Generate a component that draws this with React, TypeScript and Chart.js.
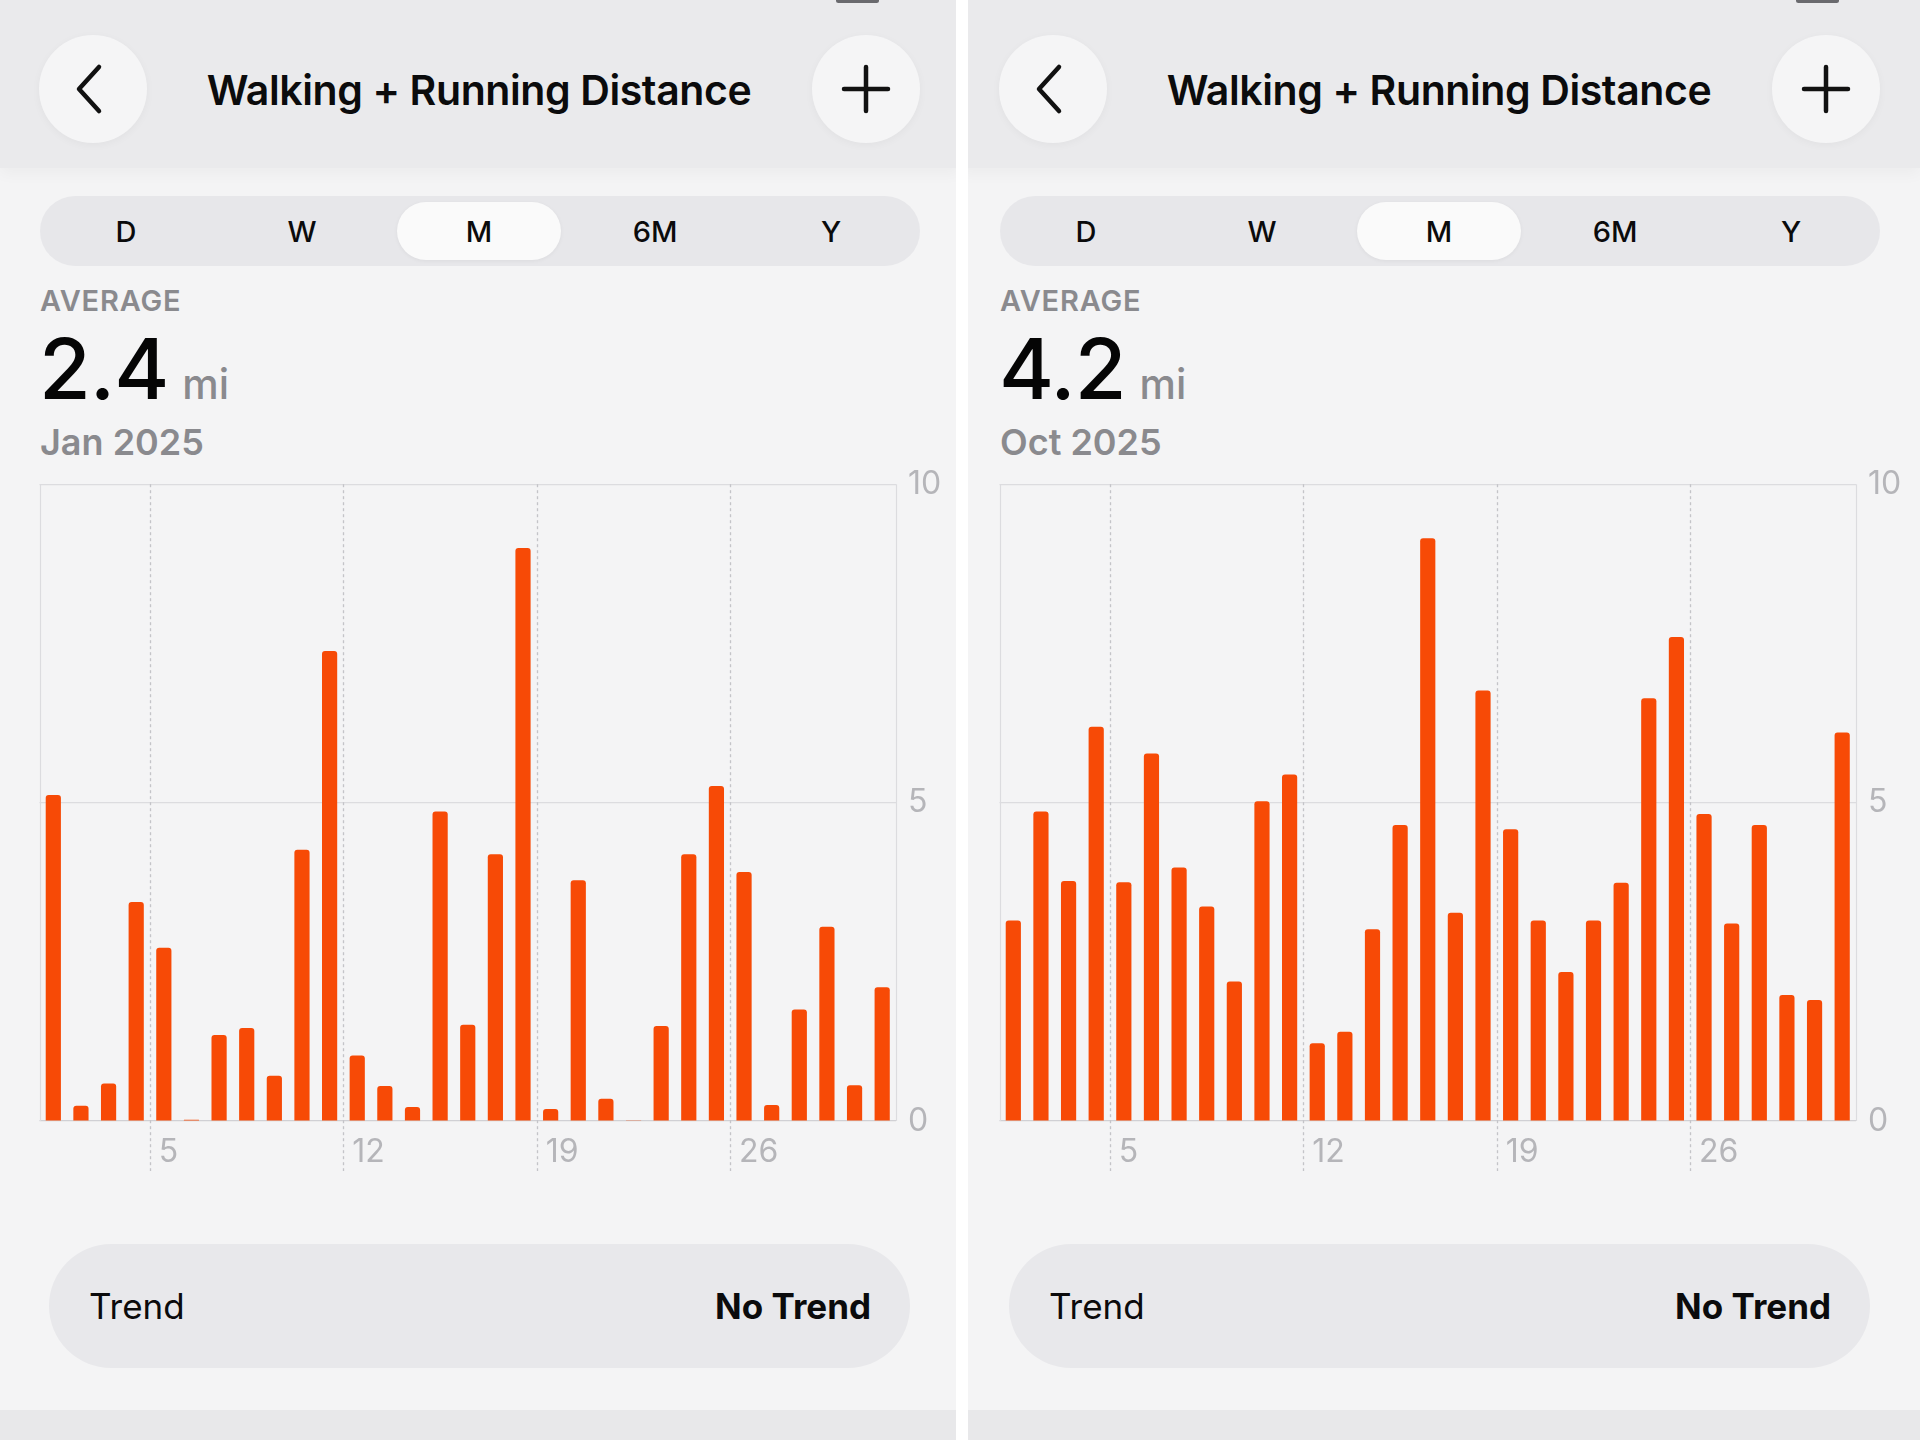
import React, { useEffect, useRef } from 'react';
import { Chart, registerables } from 'chart.js';

Chart.register(...registerables);

// ---------- data ----------
const DAYS = ['1','2','3','4','5','6','7','8','9','10','11','12','13','14','15','16','17','18','19','20','21','22','23','24','25','26','27','28','29','30','31'];
const MARKED_DAYS = ['5', '12', '19', '26'];
const Y_TICKS = [0, 5, 10];
const PERIODS = ['D', 'W', 'M', '6M', 'Y'];
const SELECTED_PERIOD = 'M';
const TITLE = 'Walking + Running Distance';

const JAN_2025 = [5.12, 0.24, 0.59, 3.44, 2.72, 0.02, 1.35, 1.46, 0.71, 4.26, 7.38, 1.03, 0.55, 0.22, 4.86, 1.51, 4.19, 9.0, 0.19, 3.78, 0.35, 0.01, 1.49, 4.19, 5.26, 3.91, 0.25, 1.75, 3.05, 0.56, 2.1];
const OCT_2025 = [3.15, 4.86, 3.77, 6.19, 3.75, 5.77, 3.98, 3.37, 2.19, 5.02, 5.44, 1.22, 1.4, 3.01, 4.65, 9.15, 3.27, 6.76, 4.58, 3.15, 2.34, 3.15, 3.74, 6.64, 7.6, 4.82, 3.1, 4.65, 1.98, 1.9, 6.1];

const PANELS = [
  { average: '2.4', unit: 'mi', month: 'Jan 2025', values: JAN_2025 },
  { average: '4.2', unit: 'mi', month: 'Oct 2025', values: OCT_2025 },
];

const FONT = 'Inter, "Noto Sans", Roboto, sans-serif';
const BAR_COLOR = '#F74A06';

const framePlugin = {
  id: 'healthFrame',
  beforeDatasetsDraw(chart: any) {
    const { ctx, chartArea, scales } = chart;
    const x = scales.x;
    const slot = x.getPixelForValue(1) - x.getPixelForValue(0);
    ctx.save();
    ctx.strokeStyle = '#dcdcdf';
    ctx.lineWidth = 1.2;
    ctx.beginPath();
    ctx.moveTo(Math.round(chartArea.left) + 0.5, chartArea.top);
    ctx.lineTo(Math.round(chartArea.left) + 0.5, chartArea.bottom);
    ctx.moveTo(Math.round(chartArea.right) + 0.5, chartArea.top);
    ctx.lineTo(Math.round(chartArea.right) + 0.5, chartArea.bottom);
    ctx.stroke();
    ctx.strokeStyle = '#c4c4c8';
    ctx.lineWidth = 1.3;
    ctx.setLineDash([3, 3]);
    MARKED_DAYS.forEach((d) => {
      const i = DAYS.indexOf(d);
      const px = Math.round(x.getPixelForValue(i) - slot / 2) + 0.5;
      ctx.beginPath();
      ctx.moveTo(px, chartArea.top);
      ctx.lineTo(px, chartArea.bottom + 50);
      ctx.stroke();
    });
    ctx.restore();
  },
};

function DistanceChart({ values }: { values: number[] }) {
  const ref = useRef<HTMLCanvasElement | null>(null);
  useEffect(() => {
    if (!ref.current) return;
    const chart = new Chart(ref.current, {
      type: 'bar',
      data: {
        labels: DAYS,
        datasets: [
          {
            data: values,
            backgroundColor: BAR_COLOR,
            borderWidth: 0,
            borderRadius: { topLeft: 3, topRight: 3, bottomLeft: 0, bottomRight: 0 },
            borderSkipped: 'bottom',
            barPercentage: 0.55,
            categoryPercentage: 1,
          },
        ],
      },
      options: {
        animation: false,
        responsive: false,
        devicePixelRatio: 1,
        layout: { padding: { left: 39.5, top: 24, right: 0, bottom: 0 } },
        plugins: { legend: { display: false }, tooltip: { enabled: false } },
        scales: {
          x: {
            type: 'category',
            offset: true,
            grid: { display: false },
            border: { display: false },
            ticks: {
              autoSkip: false,
              maxRotation: 0,
              minRotation: 0,
              align: 'start',
              labelOffset: -5,
              padding: 4,
              color: '#b5b5b9',
              font: { family: FONT, size: 32, weight: 400 },
              callback: (_v: any, idx: number) => (MARKED_DAYS.includes(DAYS[idx]) ? DAYS[idx] : ''),
            },
            afterFit: (s: any) => {
              s.height = 99;
            },
          },
          y: {
            position: 'right',
            min: Y_TICKS[0],
            max: Y_TICKS[Y_TICKS.length - 1],
            afterBuildTicks: (s: any) => {
              s.ticks = Y_TICKS.map((v) => ({ value: v }));
            },
            grid: {
              drawTicks: false,
              color: (c: any) => (c.tick && c.tick.value === 0 ? '#d0d0d4' : '#dcdcdf'),
              lineWidth: 1.2,
            },
            border: { display: false },
            ticks: {
              padding: 12,
              color: '#b5b5b9',
              font: { family: FONT, size: 32, weight: 400 },
              callback: (v: any) => String(v),
            },
            afterFit: (s: any) => {
              s.width = 64;
            },
          },
        },
      },
      plugins: [framePlugin],
    } as any);
    return () => chart.destroy();
  }, [values]);
  return (
    <canvas
      ref={ref}
      width={960}
      height={767}
      style={{ position: 'absolute', left: 0, top: 453, width: 960, height: 767 }}
    />
  );
}

const segCenters = [126, 302, 479, 655, 831];

function Panel({ left, average, unit, month, values }: any) {
  return (
    <div
      style={{
        position: 'absolute',
        left,
        top: 0,
        width: 960,
        height: 1440,
        overflow: 'hidden',
        background: '#F4F4F5',
        fontFamily: FONT,
      }}
    >
      {/* header */}
      <div
        style={{
          position: 'absolute',
          left: 0,
          top: 0,
          width: 960,
          height: 168,
          background: '#EAEAEC',
          boxShadow: '0 6px 14px rgba(0,0,0,0.035)',
        }}
      />
      <div style={{ position: 'absolute', left: 836, top: -2, width: 43, height: 5, borderRadius: 3, background: '#6a6a6e' }} />
      {/* back button */}
      <div
        style={{
          position: 'absolute',
          left: 39,
          top: 35,
          width: 108,
          height: 108,
          borderRadius: 54,
          background: '#F5F5F6',
          boxShadow: '0 2px 8px rgba(0,0,0,0.04)',
        }}
      >
        <svg width={108} height={108} viewBox="0 0 108 108">
          <polyline points="60,32 40,54 60,76" fill="none" stroke="#111" strokeWidth={4.5} strokeLinecap="round" strokeLinejoin="round" />
        </svg>
      </div>
      {/* plus button */}
      <div
        style={{
          position: 'absolute',
          left: 812,
          top: 35,
          width: 108,
          height: 108,
          borderRadius: 54,
          background: '#F5F5F6',
          boxShadow: '0 2px 8px rgba(0,0,0,0.04)',
        }}
      >
        <svg width={108} height={108} viewBox="0 0 108 108">
          <line x1={32} y1={54} x2={76} y2={54} stroke="#111" strokeWidth={4.5} strokeLinecap="round" />
          <line x1={54} y1={32} x2={54} y2={76} stroke="#111" strokeWidth={4.5} strokeLinecap="round" />
        </svg>
      </div>
      {/* title */}
      <div
        style={{
          position: 'absolute',
          left: 0,
          width: 958,
          top: 65,
          height: 50,
          display: 'flex',
          alignItems: 'center',
          justifyContent: 'center',
          fontSize: 41,
          fontWeight: 600,
          color: '#0b0b0c',
          letterSpacing: -0.4,
        }}
      >
        {TITLE}
      </div>
      {/* segmented control */}
      <div style={{ position: 'absolute', left: 40, top: 196, width: 880, height: 70, borderRadius: 35, background: '#E7E7EA' }} />
      <div style={{ position: 'absolute', left: 397, top: 202, width: 164, height: 58, borderRadius: 29, background: '#FAFAFA', boxShadow: '0 1px 4px rgba(0,0,0,0.05)' }} />
      {PERIODS.map((p, i) => (
        <div
          key={p}
          style={{
            position: 'absolute',
            left: segCenters[i] - 60,
            width: 120,
            top: 206,
            height: 50,
            display: 'flex',
            alignItems: 'center',
            justifyContent: 'center',
            fontSize: 29,
            fontWeight: p === SELECTED_PERIOD ? 500 : 500,
            color: '#0b0b0c',
          }}
        >
          {p}
        </div>
      ))}
      {/* average */}
      <div style={{ position: 'absolute', left: 40, top: 280, height: 40, display: 'flex', alignItems: 'center', fontSize: 29, fontWeight: 600, color: '#8A8A8E', letterSpacing: 0.8 }}>
        AVERAGE
      </div>
      <div style={{ position: 'absolute', left: 39, top: 327, display: 'flex', alignItems: 'baseline', lineHeight: 1 }}>
        <span style={{ fontSize: 84, fontWeight: 500, color: '#050505', letterSpacing: -1 }}>{average}</span>
        <span style={{ fontSize: 41, fontWeight: 500, color: '#8A8A8E', marginLeft: 14 }}>{unit}</span>
      </div>
      <div style={{ position: 'absolute', left: 40, top: 420, height: 44, display: 'flex', alignItems: 'center', fontSize: 36, fontWeight: 600, color: '#8A8A8E' }}>
        {month}
      </div>
      {/* chart */}
      <DistanceChart values={values} />
      {/* trend */}
      <div
        style={{
          position: 'absolute',
          left: 49,
          top: 1244,
          width: 861,
          height: 124,
          borderRadius: 62,
          background: '#E8E8EB',
          display: 'flex',
          alignItems: 'center',
          justifyContent: 'space-between',
          padding: '0 39px 0 40px',
          boxSizing: 'border-box',
          fontSize: 35,
          color: '#0b0b0c',
        }}
      >
        <span style={{ fontWeight: 400 }}>Trend</span>
        <span style={{ fontWeight: 700 }}>No Trend</span>
      </div>
      <div style={{ position: 'absolute', left: 0, top: 1410, width: 960, height: 30, background: '#E8E8EA' }} />
    </div>
  );
}

export default function App() {
  return (
    <div style={{ position: 'absolute', left: 0, top: 0, width: 1920, height: 1440, overflow: 'hidden', background: '#fff' }}>
      {PANELS.map((p, i) => (
        <Panel key={p.month} left={i * 960} {...p} />
      ))}
      <div style={{ position: 'absolute', left: 956, top: 0, width: 12, height: 1440, background: '#FFFFFF' }} />
    </div>
  );
}
